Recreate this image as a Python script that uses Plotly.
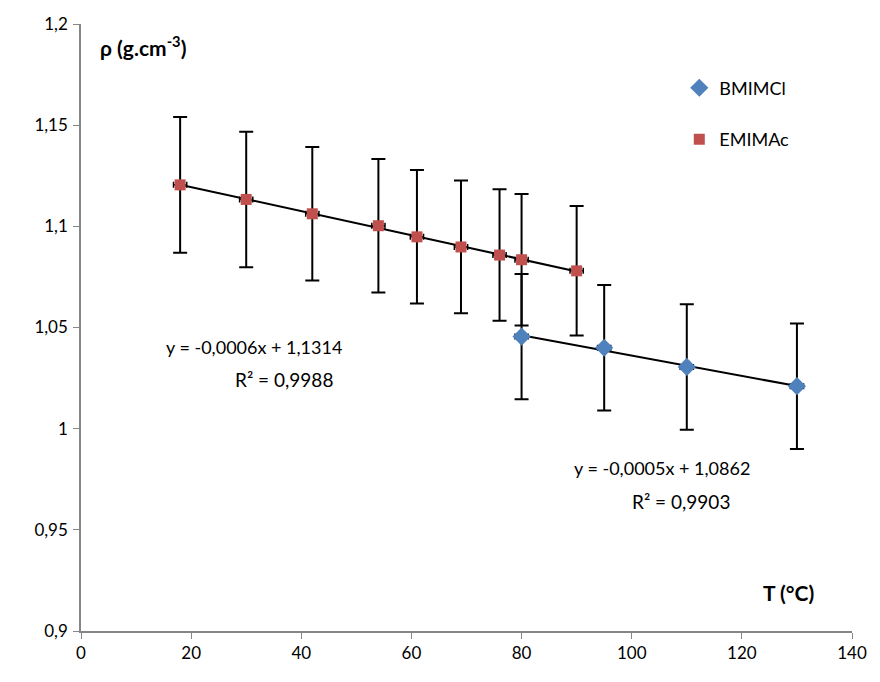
import plotly.graph_objects as go
import numpy as np

# Data
bmim_T = [80, 95, 110, 130]
bmim_rho = [1.0455, 1.0400, 1.0305, 1.0210]
bmim_err = [0.031, 0.031, 0.031, 0.031]

emim_T = [18, 30, 42, 54, 61, 69, 76, 80, 90]
emim_rho = [1.1205, 1.1133, 1.1062, 1.1003, 1.0948, 1.0898, 1.0858, 1.0835, 1.0780]
emim_err = [0.0335, 0.0335, 0.033, 0.033, 0.033, 0.0328, 0.0325, 0.0325, 0.032]

x_ticks = [0, 20, 40, 60, 80, 100, 120, 140]
y_ticks = [0.9, 0.95, 1.0, 1.05, 1.1, 1.15, 1.2]
y_ticktext = ["0,9", "0,95", "1", "1,05", "1,1", "1,15", "1,2"]

# trend fits (as shown in the chart)
emim_fit = (-0.0006, 1.1314, "0,9988")
bmim_fit = (-0.0005, 1.0862, "0,9903")

FONT = "Lato"
fig = go.Figure()

def fit_line(xs, ys):
    a, b = np.polyfit(xs, ys, 1)
    xx = np.array([min(xs), max(xs)])
    return xx, a * xx + b

for xs, ys in [(emim_T, emim_rho), (bmim_T, bmim_rho)]:
    xx, yy = fit_line(xs, ys)
    fig.add_trace(go.Scatter(x=xx, y=yy, mode="lines", line=dict(color="black", width=2),
                             showlegend=False, hoverinfo="skip"))

fig.add_trace(go.Scatter(
    x=bmim_T, y=bmim_rho, mode="markers", name="BMIMCl", legendgroup="a",
    marker=dict(symbol="diamond", size=14, color="#4F81BD"),
    error_y=dict(type="data", array=bmim_err, color="black", thickness=2, width=7),
    error_x=dict(type="constant", value=1.2, color="black", thickness=1.5, width=3),
))
fig.add_trace(go.Scatter(
    x=emim_T, y=emim_rho, mode="markers", name="EMIMAc", legendgroup="b",
    marker=dict(symbol="square", size=11, color="#C0504D"),
    error_y=dict(type="data", array=emim_err, color="black", thickness=2, width=7),
    error_x=dict(type="constant", value=1.2, color="black", thickness=1.5, width=3),
))

annots = [
    (31.5, 1.0405, f"y = {emim_fit[0]:.4f}x + {emim_fit[1]:.4f}".replace(".", ","), 18),
    (36.8, 1.0243, f"R² = {emim_fit[2]}", 19),
    (105.5, 0.9805, f"y = {bmim_fit[0]:.4f}x + {bmim_fit[1]:.4f}".replace(".", ","), 18),
    (109, 0.9642, f"R² = {bmim_fit[2]}", 19),
]
for x, y, t, s in annots:
    fig.add_annotation(x=x, y=y, text=t, showarrow=False, font=dict(family=FONT, size=s, color="black"))

fig.add_annotation(x=0.022, y=1.189, xref="paper", yref="y", text="<b>ρ (g.cm<sup>-3</sup>)</b>",
                   showarrow=False, xanchor="left", font=dict(family=FONT, size=21, color="black"))
fig.add_annotation(x=128.5, y=0.919, text="<b>T (°C)</b>", showarrow=False,
                   font=dict(family=FONT, size=21, color="black"))

fig.update_layout(
    width=880, height=682,
    margin=dict(l=81, r=28, t=24, b=51),
    paper_bgcolor="white", plot_bgcolor="white",
    font=dict(family=FONT, size=17, color="black"),
    showlegend=True,
    legend=dict(x=0.776, y=0.925, xanchor="left", yanchor="top", traceorder="grouped",
                tracegroupgap=25, font=dict(family=FONT, size=18, color="black"),
                bgcolor="rgba(0,0,0,0)", itemwidth=30),
    xaxis=dict(range=[0, 140], tickvals=x_ticks, ticktext=[str(v) for v in x_ticks],
               showgrid=False, zeroline=False, showline=True, linecolor="#868686", linewidth=1.5,
               ticks="outside", ticklen=6, tickcolor="#868686", tickfont=dict(size=17),
               automargin=False),
    yaxis=dict(range=[0.9, 1.2], tickvals=y_ticks, ticktext=y_ticktext,
               showgrid=False, zeroline=False, showline=True, linecolor="#868686", linewidth=1.5,
               ticks="outside", ticklen=6, tickcolor="#868686", tickfont=dict(size=17),
               ticklabelstandoff=2, automargin=False),
)

fig.write_html("out.html")
